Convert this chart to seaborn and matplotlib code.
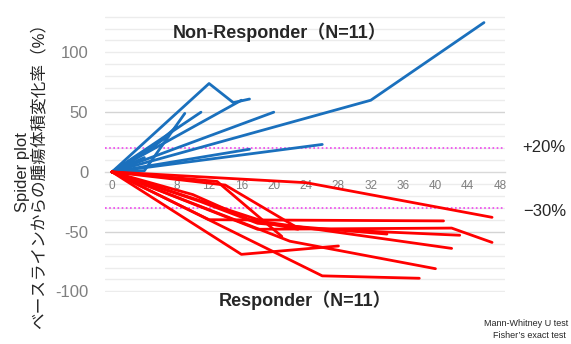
import numpy as np
import pandas as pd
import seaborn as sns
import matplotlib.pyplot as plt
from matplotlib.ticker import MultipleLocator, FixedLocator

# weeks from baseline / % change in tumour volume, one list per patient
nonresp_weeks = [
    [0, 12, 15, 17],
    [0, 16],
    [0, 4, 9],
    [0, 11],
    [0, 20],
    [0, 32, 46],
    [0, 17],
    [0, 26],
    [0, 5, 8],
    [0, 7],
    [0, 4],
]
nonresp_change = [
    [0, 74, 58, 61],
    [0, 60],
    [0, 1, 49],
    [0, 50],
    [0, 50],
    [0, 60, 125],
    [0, 19],
    [0, 23],
    [0, 20, 38],
    [0, 30],
    [0, 12],
]

resp_weeks = [
    [0, 24, 47],
    [0, 13, 21],
    [0, 14, 23, 43],
    [0, 12, 41],
    [0, 18, 42, 47],
    [0, 19, 42],
    [0, 16, 28],
    [0, 26, 38],
    [0, 22, 40],
    [0, 11, 18, 34],
    [0, 10, 17, 23],
]
resp_change = [
    [0, -9, -38],
    [0, -8, -54],
    [0, -11, -47, -53],
    [0, -40, -41],
    [0, -48, -47, -59],
    [0, -42, -64],
    [0, -69, -62],
    [0, -87, -89],
    [0, -58, -81],
    [0, -25, -43, -52],
    [0, -19, -40, -48],
]

rows = []
for grp, weeks, change in [('Non-Responder', nonresp_weeks, nonresp_change),
                           ('Responder', resp_weeks, resp_change)]:
    for i, (w, c) in enumerate(zip(weeks, change)):
        for xv, yv in zip(w, c):
            rows.append({'group': grp, 'patient': f'{grp}_{i}', 'week': xv, 'change': yv})
data = pd.DataFrame(rows)

sns.set_style('white')
plt.rcParams['font.family'] = ['Liberation Sans', 'Noto Sans CJK JP', 'DejaVu Sans']
plt.rcParams['axes.unicode_minus'] = False

fig = plt.figure(figsize=(5.71, 3.44), dpi=100)
ax = fig.add_axes([105 / 571, 52 / 344, 400 / 571, 276 / 344])

# gridlines
for v in range(-100, 131, 10):
    col = '#d4d4d4' if v in (-50, 50) else '#ececec'
    if v != 0:
        ax.axhline(v, color=col, lw=1.0, zorder=0)

ax.axhline(20, color='#ee44ee', lw=1.2, ls=(0, (1, 1.5)), zorder=1)
ax.axhline(-30, color='#ee44ee', lw=1.2, ls=(0, (1, 1.5)), zorder=1)

sns.lineplot(data=data, x='week', y='change', hue='group', units='patient',
             estimator=None, sort=False, legend=False,
             palette={'Non-Responder': '#1a70bd', 'Responder': '#ff0000'},
             linewidth=2.0, ax=ax, zorder=3)

ax.set_xlim(-0.87, 48.6)
ax.set_ylim(-100.5, 130.5)

for s in ['top', 'right', 'left']:
    ax.spines[s].set_visible(False)
ax.spines['bottom'].set_position(('data', 0))
ax.spines['bottom'].set_color('#d9d9d9')
ax.spines['bottom'].set_linewidth(1.0)

ax.xaxis.set_major_locator(MultipleLocator(4))
ax.xaxis.set_minor_locator(MultipleLocator(1))
ax.tick_params(axis='x', which='both', direction='in', length=3, color='#cccccc',
               labelsize=8.5, labelcolor='#7f7f7f', pad=6)
ax.set_xticks(range(0, 49, 4))
ax.yaxis.set_major_locator(FixedLocator([-100, -50, 0, 50, 100]))
ax.tick_params(axis='y', length=0, labelsize=12, labelcolor='#7f7f7f', pad=12)
ax.set_xlabel('')
ax.set_ylabel('')

fig.text(280 / 571, 1 - 32 / 344, 'Non-Responder（N=11）', ha='center', va='center',
         fontsize=13, fontweight='bold')
fig.text(305 / 571, 1 - 300 / 344, 'Responder（N=11）', ha='center', va='center',
         fontsize=13, fontweight='bold')
fig.text(31 / 571, 0.5, 'Spider plot\nベースラインからの腫瘍体積変化率（%）', rotation=90,
         ha='center', va='center', fontsize=12, linespacing=1.05)
fig.text(544 / 571, 1 - 148 / 344, '+20%', ha='center', va='center', fontsize=12)
fig.text(545 / 571, 1 - 212 / 344, '−30%', ha='center', va='center', fontsize=12)
fig.text(568 / 571, 1 - 324 / 344, 'Mann-Whitney U test', ha='right', va='center', fontsize=6.5)
fig.text(566 / 571, 1 - 336 / 344, 'Fisher’s exact test', ha='right', va='center', fontsize=6.5)

fig.savefig('out.png', dpi=100)
